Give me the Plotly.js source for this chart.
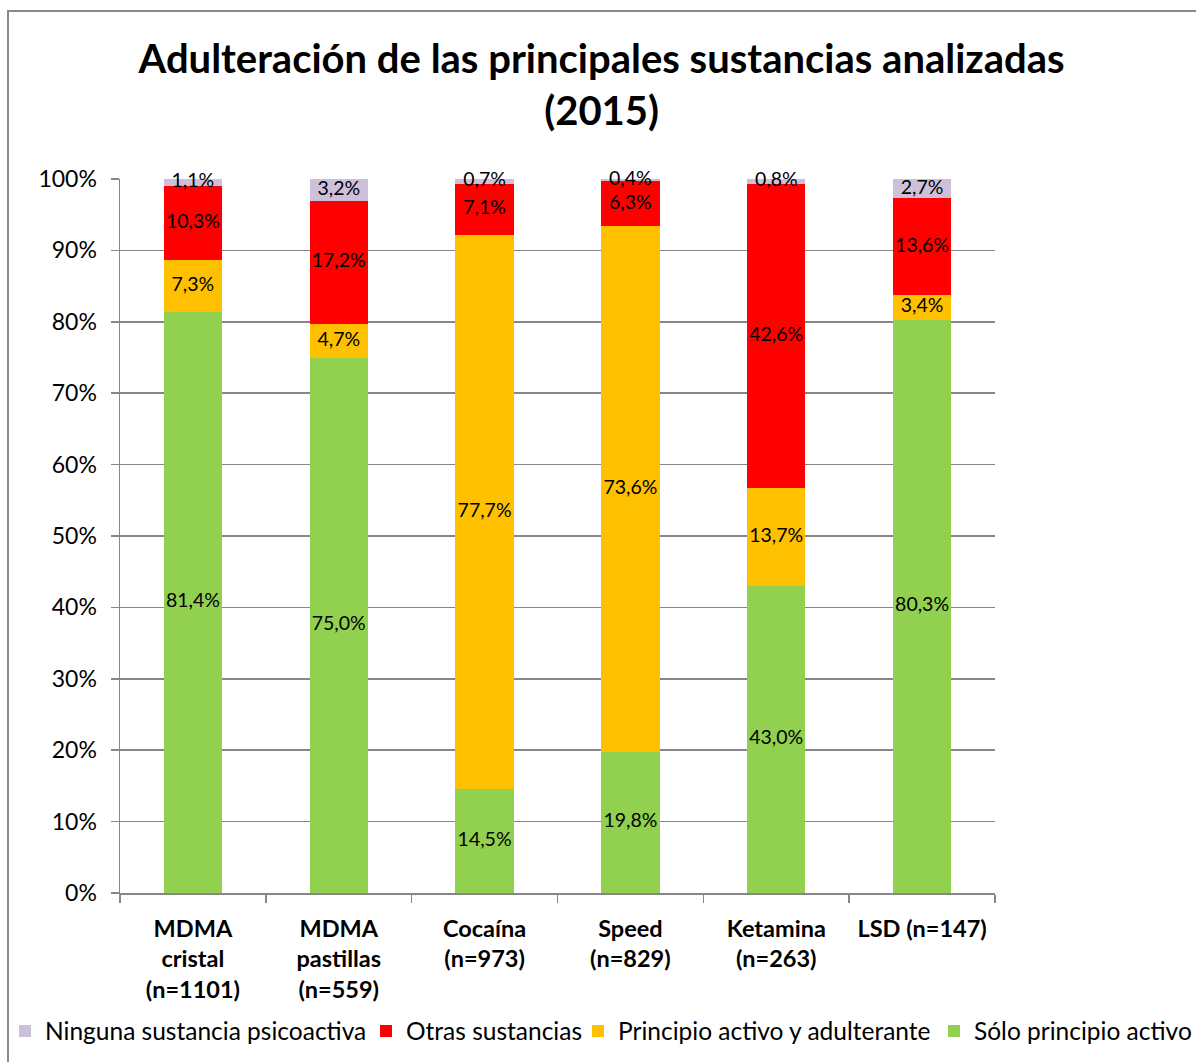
<!DOCTYPE html>
<html><head><meta charset="utf-8">
<script src="https://cdn.plot.ly/plotly-3.0.1.min.js"></script>
<style>
html,body{margin:0;padding:0;background:#fff;}
#frame{position:absolute;left:7px;top:10px;width:1200px;height:1070px;border:2px solid #898989;box-sizing:border-box;}
#chart{position:absolute;left:0;top:0;width:1196px;height:1062px;}
</style>
</head><body>
<div id="frame"></div>
<div id="chart"></div>
<script>
var categories = ["MDMA<br>cristal<br>(n=1101)", "MDMA<br>pastillas<br>(n=559)", "Cocaína<br>(n=973)", "Speed<br>(n=829)", "Ketamina<br>(n=263)", "LSD (n=147)"];
var soloPrincipio = [81.4, 75.0, 14.5, 19.8, 43.0, 80.3];
var principioAdulterante = [7.3, 4.7, 77.7, 73.6, 13.7, 3.4];
var otrasSustancias = [10.3, 17.2, 7.1, 6.3, 42.6, 13.6];
var ninguna = [1.1, 3.2, 0.7, 0.4, 0.8, 2.7];
var seriesNames = ["Sólo principio activo", "Principio activo y adulterante", "Otras sustancias", "Ninguna sustancia psicoactiva"];
var seriesColors = ['#92D050', '#FFC000', '#FF0000', '#CCC0DA'];
var yTicks = [0,10,20,30,40,50,60,70,80,90,100];

var FONT = "Lato, 'Open Sans', sans-serif";
function lbl(v){ return v.map(function(x){ return x.toFixed(1).replace('.', ',') + '%'; }); }

var allSeries = [soloPrincipio, principioAdulterante, otrasSustancias, ninguna];
var legendIds = ['legend4', 'legend3', 'legend2', 'legend'];
var data = [];
var base = categories.map(function(){ return 0; });
allSeries.forEach(function(vals, i){
  data.push({type:'bar', name:seriesNames[i], x:categories, y:vals,
    marker:{color:seriesColors[i], line:{width:0}}, hoverinfo:'skip', legend:legendIds[i]});
  var mids = vals.map(function(v, j){ return base[j] + v/2; });
  base = base.map(function(b, j){ return b + vals[j]; });
  data.push({type:'scatter', mode:'text', x:categories, y:mids, text:lbl(vals), textposition:'middle center',
    textfont:{family:FONT, size:19.5, color:'#000'}, showlegend:false, hoverinfo:'skip', cliponaxis:false});
});

var legY = 1 - 1031/1062;
function leg(x){
  return {orientation:'h', x:x/1196, xref:'container', xanchor:'left', y:legY, yref:'container', yanchor:'middle',
    font:{family:FONT, size:24.5, color:'#000'}, itemwidth:30, bgcolor:'rgba(0,0,0,0)', borderwidth:0};
}
var layout = {
  width:1196, height:1062, barmode:'stack', bargap:0.6,
  paper_bgcolor:'rgba(0,0,0,0)', plot_bgcolor:'rgba(0,0,0,0)',
  margin:{l:120, r:201, t:179, b:169},
  font:{family:FONT, color:'#000'},
  title:{text:'<b>Adulteración de las principales sustancias analizadas<br>(2015)</b>', x:0.503, xref:'container', xanchor:'center',
    y:1 - 73/1062, yref:'container', yanchor:'middle', font:{family:FONT, size:40, color:'#000'}},
  xaxis:{type:'category', tickson:'boundaries', ticks:'outside', ticklen:8, tickcolor:'#868686', tickwidth:1.5,
    showline:true, linecolor:'#868686', linewidth:1.5, showgrid:false, tickangle:0,
    tickfont:{family:FONT, size:23.5, color:'#000', weight:'bold'}, ticklabelstandoff:14},
  yaxis:{range:[0,100], tickvals:yTicks, ticktext:yTicks.map(function(t){return t+'%';}), ticks:'outside', ticklen:8,
    tickcolor:'#868686', tickwidth:1.5, showline:true, linecolor:'#868686', linewidth:1.5,
    showgrid:true, gridcolor:'#868686', gridwidth:1.5, zeroline:false,
    tickfont:{family:FONT, size:23, color:'#000'}, ticklabelstandoff:9},
  legend:leg(5), legend2:leg(366), legend3:leg(578), legend4:leg(934),
  showlegend:true
};
Plotly.newPlot('chart', data, layout, {displayModeBar:false, staticPlot:true});
</script>
</body></html>
